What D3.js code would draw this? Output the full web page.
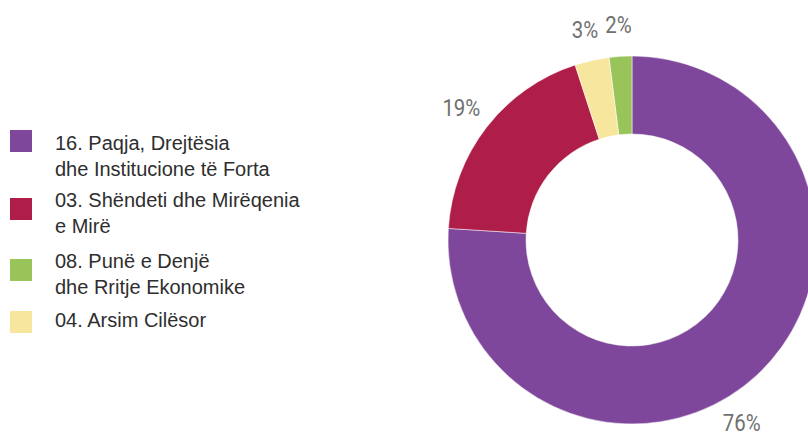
<!DOCTYPE html>
<html>
<head>
<meta charset="utf-8">
<script src="https://cdn.jsdelivr.net/npm/d3@7"></script>
<style>
  html, body { margin: 0; padding: 0; background: #ffffff; }
  svg { display: block; }
</style>
</head>
<body>
<div id="chart"></div>
<script>

// data
var categories = [
    [ '16. Paqja, Drejtësia', 'dhe Institucione të Forta' ],
    [ '03. Shëndeti dhe Mirëqenia', 'e Mirë' ],
    [ '08. Punë e Denjë', 'dhe Rritje Ekonomike' ],
    [ '04. Arsim Cilësor' ]
];
var values = [ 76, 19, 2, 3 ];

// styles / layout
var colors = [ '#7e479c', '#af1e48', '#98c45a', '#f6e69e' ];
var width = 808,
    height = 437,
    cx = 632,
    cy = 240,
    outerR = 184,
    innerR = 106,
    labelR = 216;

var legendBaseline = [ 150, 206.5, 268.3, 327.3 ];
var legendSquareTop = [ 130, 198, 259, 311 ];
var legendLineHeight = 26;

var svg = d3.select('#chart').append('svg')
    .attr('width', width)
    .attr('height', height);

// donut
var data = values.map(function ( v, i ) {
    return { value: v, color: colors[i], label: v + '%' };
});

var pie = d3.pie()
    .value(function ( d ) { return d.value; }); // default sort: descending

var arcs = pie( data );

var arc = d3.arc()
    .innerRadius( innerR )
    .outerRadius( outerR );

var g = svg.append('g')
    .attr('transform', 'translate(' + cx + ',' + cy + ')');

g.selectAll('path')
    .data( arcs )
    .enter().append('path')
    .attr('d', arc)
    .style('fill', function ( d ) { return d.data.color; })
    .style('stroke', '#ffffff')
    .style('stroke-width', 0.5);

// labels: placed along slice mid angle, largest one nudged down toward the bottom
var maxValue = d3.max( values );

g.selectAll('text.pct')
    .data( arcs )
    .enter().append('text')
    .attr('class', 'pct')
    .attr('transform', function ( d ) {
        var a = ( d.startAngle + d.endAngle ) / 2;
        var r = labelR;
        if ( d.data.value === maxValue ) {
            a = 149 * Math.PI / 180;
            r = 213;
        }
        return 'translate(' + ( r * Math.sin( a ) ) + ',' + ( -r * Math.cos( a ) ) + ') scale(0.85,1)';
    })
    .attr('text-anchor', 'middle')
    .attr('dy', '0.36em')
    .style('font-family', 'Roboto, sans-serif')
    .style('font-size', '24px')
    .style('fill', '#707070')
    .text(function ( d ) { return d.data.label; });

// legend
var legend = svg.append('g');

var item = legend.selectAll('g.item')
    .data( categories )
    .enter().append('g')
    .attr('class', 'item');

item.append('rect')
    .attr('x', 10)
    .attr('y', function ( d, i ) { return legendSquareTop[i]; })
    .attr('width', 22)
    .attr('height', 22)
    .style('fill', function ( d, i ) { return colors[i]; });

item.each(function ( lines, i ) {
    var t = d3.select( this ).append('text')
        .attr('x', 55)
        .attr('y', legendBaseline[i])
        .style('font-family', '"Liberation Sans", Arial, sans-serif')
        .style('font-size', '20px')
        .style('fill', '#2e2e2e');

    lines.forEach(function ( line, j ) {
        t.append('tspan')
            .attr('x', 55)
            .attr('y', legendBaseline[i] + j * legendLineHeight)
            .text( line );
    });
});

</script>
</body>
</html>
